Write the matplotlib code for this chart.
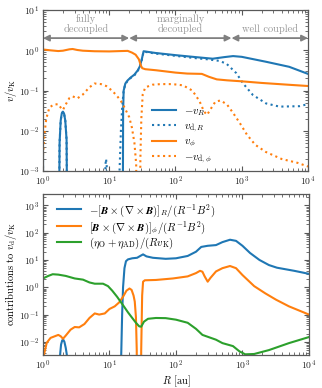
import numpy as np
import matplotlib
matplotlib.use("Agg")
import matplotlib.pyplot as plt
from matplotlib.transforms import blended_transform_factory

plt.rcParams.update({
    "font.family": "serif",
    "font.serif": ["cmr10"],
    "mathtext.fontset": "cm",
    "axes.formatter.use_mathtext": True,
    "font.size": 7,
    "axes.edgecolor": "0.35",
    "axes.linewidth": 0.9,
    "xtick.color": "0.35",
    "ytick.color": "0.35",
    "xtick.labelcolor": "0.15",
    "ytick.labelcolor": "0.15",
    "xtick.direction": "in",
    "ytick.direction": "in",
    "xtick.top": True,
    "ytick.right": True,
    "xtick.minor.visible": True,
    "ytick.minor.visible": True,
    "xtick.major.size": 3.5,
    "ytick.major.size": 3.5,
    "xtick.minor.size": 2,
    "ytick.minor.size": 2,
    "xtick.major.pad": 2.5,
    "ytick.major.pad": 2.5,
})

BLUE = "#1f77b4"
ORANGE = "#ff7f0e"
GREEN = "#2ca02c"
TINY = 1e-6

# ---------------- top panel data ----------------
vR_x = [1.0, 1.012, 1.72, 1.78, 1.85, 1.92, 2.0, 2.08, 2.17, 2.27, 2.36, 15.9, 16.2, 16.5,
        17.5, 19, 21, 24, 27, 29, 31, 33, 36, 50, 100, 200, 365, 550, 740, 1000, 2330, 5200, 10000]
vR_y = [2.6e-3, TINY, TINY, 5e-3, 0.018, 0.027, 0.030, 0.027, 0.018, 0.006, TINY, TINY, 0.03, 0.1,
        0.15, 0.18, 0.21, 0.25, 0.32, 0.4, 0.6, 0.95, 0.93, 0.86, 0.76, 0.68, 0.62, 0.68, 0.72, 0.69,
        0.52, 0.39, 0.26]

vdR_x = [1.0, 1.012, 1.72, 1.78, 1.85, 1.92, 2.0, 2.08, 2.17, 2.27, 2.36, 8.5, 8.75, 8.95, 9.15, 9.4,
         14.0, 14.3, 15.0, 15.7, 16.5, 17.5, 19, 21, 24, 27, 29, 31, 33, 36, 50, 100, 200, 300, 450,
         585, 830, 1050, 1470, 2330, 3700, 7400, 10000]
vdR_y = [2.6e-3, TINY, TINY, 5e-3, 0.018, 0.027, 0.030, 0.027, 0.018, 0.006, TINY, TINY, 1.4e-3,
         2.0e-3, 1.4e-3, TINY, TINY, 1e-3, 0.01, 0.04, 0.1, 0.145, 0.175, 0.205, 0.24, 0.31, 0.39,
         0.58, 0.92, 0.91, 0.83, 0.73, 0.64, 0.6, 0.55, 0.47, 0.27, 0.15, 0.078, 0.048, 0.04, 0.041,
         0.046]

vphi_x = [1.0, 1.3, 1.7, 2.0, 2.5, 2.8, 3.3, 4, 6, 10, 15, 19, 22, 25, 28, 30, 31.5, 35, 51, 100,
          150, 250, 320, 420, 600, 1000, 2000, 5000, 10000]
vphi_y = [1.05, 1.0, 0.96, 0.98, 1.06, 1.08, 1.02, 0.98, 0.95, 0.94, 0.96, 0.97, 0.88, 0.78, 0.6,
          0.42, 0.36, 0.34, 0.32, 0.28, 0.265, 0.26, 0.22, 0.19, 0.18, 0.17, 0.155, 0.14, 0.13]

vdphi_x = [1.0, 1.05, 1.12, 1.25, 1.45, 1.7, 1.85, 2.0, 2.2, 2.5, 2.8, 3.3, 4.0, 5.0, 6.0, 7.5, 9,
           11, 13, 15, 17, 20, 22, 24, 25.5, 26.5, 28.8, 29.5, 30.5, 32, 35, 45, 60, 90, 130, 180,
           230, 270, 300, 340, 400, 480, 600, 750, 950, 1200, 1600, 2300, 4000, 7000, 10000]
vdphi_y = [2.5e-3, 8e-3, 0.02, 0.038, 0.045, 0.046, 0.038, 0.033, 0.045, 0.065, 0.072, 0.064, 0.08,
           0.12, 0.15, 0.145, 0.13, 0.1, 0.075, 0.055, 0.038, 0.022, 0.012, 0.005, 1.5e-3, TINY, TINY,
           2e-3, 0.02, 0.08, 0.12, 0.14, 0.145, 0.145, 0.135, 0.1, 0.055, 0.03, 0.025, 0.035, 0.053,
           0.057, 0.045, 0.027, 0.015, 0.008, 0.0045, 0.003, 0.002, 0.0016, 0.0013]

top_labels = [r"$-v_R$", r"$v_{{\rm d},R}$", r"$v_\phi$", r"$-v_{{\rm d},\phi}$"]

regime_edges = [1, 20, 700, 1e4]
regime_names = ["fully\ndecoupled", "marginally\ndecoupled", "well coupled"]

# ---------------- bottom panel data ----------------
fR_x = [1.75, 1.8, 1.87, 1.95, 2.02, 2.1, 2.2, 2.3, 2.4, 14.7, 15.0, 15.5, 16, 16.8, 17.7, 19, 22, 26,
        29, 32, 36, 45, 70, 100, 150, 200, 240, 300, 400, 500, 650, 800, 1000, 1300, 1800, 2500,
        3300, 6000, 10000]
fR_y = [TINY, 3e-3, 8e-3, 0.0115, 0.012, 0.01, 6e-3, 3e-3, TINY, TINY, 3e-3, 0.1, 1.0, 5, 9, 10.5,
        11.5, 12, 14, 16, 13.5, 12, 11, 11.5, 14, 20, 30, 33, 35, 45, 55, 50, 33, 18, 10, 6.5, 5.2,
        4.0, 3.1]

fphi_x = [1.0, 1.05, 1.14, 1.3, 1.5, 1.7, 1.85, 2.0, 2.2, 2.6, 3.0, 3.5, 4.2, 5.0, 6.0, 7.0, 8.5, 10,
          12, 14, 16, 18, 20, 21.5, 23, 24, 25, 25.7, 26, 29.5, 30, 31, 32, 34, 50, 90, 150, 200,
          230, 250, 270, 300, 330, 400, 500, 650, 800, 1000, 1500, 2200, 3200, 5000, 10000]
fphi_y = [2e-3, 4e-3, 0.0093, 0.014, 0.016, 0.018, 0.016, 0.013, 0.017, 0.028, 0.035, 0.034, 0.045,
          0.075, 0.11, 0.1, 0.11, 0.16, 0.2, 0.28, 0.45, 0.75, 0.9, 0.8, 0.5, 0.3, 0.08, 5e-3, TINY,
          TINY, 5e-3, 0.5, 1.6, 1.8, 1.85, 2.1, 2.5, 3.3, 4.0, 3.7, 2.5, 1.6, 2.2, 3.8, 5.0, 6.0, 5.0,
          2.8, 1.1, 0.6, 0.35, 0.2, 0.1]

eta_x = [1.0, 1.2, 1.4, 1.7, 2.2, 3.0, 4.0, 5.0, 6.0, 8.0, 9.5, 11, 13, 16, 19, 22, 25, 28, 30, 33,
         38, 50, 70, 100, 150, 200, 250, 400, 500, 720, 900, 1100, 1500, 2500, 5000, 10000]
eta_y = [2.1, 2.6, 3.0, 2.9, 2.6, 2.1, 1.9, 1.5, 1.35, 1.35, 1.1, 0.75, 0.45, 0.22, 0.12, 0.075,
         0.05, 0.037, 0.036, 0.055, 0.07, 0.075, 0.074, 0.065, 0.05, 0.03, 0.018, 0.012, 0.009,
         0.007, 0.0045, 0.0035, 0.0036, 0.005, 0.009, 0.015]

bottom_labels = [
    r"$-[\mathbfit{B}\times(\nabla\times\mathbfit{B})]_R/(R^{-1}B^2)$",
    r"$[\mathbfit{B}\times(\nabla\times\mathbfit{B})]_\phi/(R^{-1}B^2)$",
    r"$(\eta_{\rm O}+\eta_{\rm AD})/(Rv_{\rm K})$",
]

# ---------------- figure ----------------
fig = plt.figure(figsize=(3.22, 3.88), dpi=100)
ax1 = fig.add_axes([0.1335, 0.559, 0.823, 0.415])
ax2 = fig.add_axes([0.1335, 0.085, 0.826, 0.415])

lw = 1.5
ax1.plot(vR_x, vR_y, color=BLUE, lw=lw, label=top_labels[0])
ax1.plot(vdR_x, vdR_y, color=BLUE, lw=lw, ls=":", label=top_labels[1])
ax1.plot(vphi_x, vphi_y, color=ORANGE, lw=lw, label=top_labels[2])
ax1.plot(vdphi_x, vdphi_y, color=ORANGE, lw=lw, ls=":", label=top_labels[3])
ax1.set_xscale("log")
ax1.set_yscale("log")
ax1.set_xlim(1, 1e4)
ax1.set_ylim(1e-3, 1e1)
ax1.set_ylabel(r"$v/v_{\rm K}$", fontsize=7.5)
ax1.yaxis.set_label_coords(-0.09, 0.5)
ax1.legend(loc="upper left", bbox_to_anchor=(0.39, 0.435), frameon=False, borderpad=0,
           handlelength=2.2, handletextpad=0.75, labelspacing=0.28, fontsize=7.8)

trans = blended_transform_factory(ax1.transData, ax1.transAxes)
for i, name in enumerate(regime_names):
    a, b = regime_edges[i], regime_edges[i + 1]
    ax1.annotate("", xy=(b, 0.826), xytext=(a, 0.826), xycoords=trans, textcoords=trans,
                 arrowprops=dict(arrowstyle="<|-|>", color="0.5", lw=1.3, shrinkA=0, shrinkB=0,
                                 mutation_scale=9))
    ax1.text(np.sqrt(a * b), 0.85, name, transform=trans, ha="center", va="bottom",
             color="0.6", fontsize=7.5, linespacing=1.05)

ax2.plot(fR_x, fR_y, color=BLUE, lw=lw, label=bottom_labels[0])
ax2.plot(fphi_x, fphi_y, color=ORANGE, lw=lw, label=bottom_labels[1])
ax2.plot(eta_x, eta_y, color=GREEN, lw=lw, label=bottom_labels[2])
ax2.set_xscale("log")
ax2.set_yscale("log")
ax2.set_xlim(1, 1e4)
ax2.set_ylim(3.3e-3, 2.6e3)
ax2.set_yticks([1e-2, 1e-1, 1e0, 1e1, 1e2, 1e3])
ax2.set_xlabel(r"$R$ [au]", labelpad=1, fontsize=7.5)
ax2.set_ylabel(r"contributions to $v_{\rm d}/v_{\rm K}$", fontsize=7.5)
ax2.yaxis.set_label_coords(-0.09, 0.5)
ax2.legend(loc="upper left", bbox_to_anchor=(0.034, 0.985), frameon=False, borderpad=0,
           handlelength=2.2, handletextpad=0.75, labelspacing=0.02, fontsize=7.8)

for ax in (ax1, ax2):
    ax.tick_params(which="both", top=True, right=True)

fig.savefig("out.png", dpi=100)
